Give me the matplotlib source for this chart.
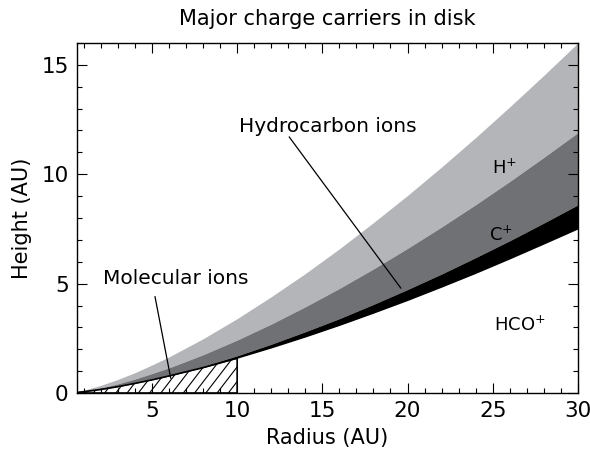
import numpy as np
import matplotlib
matplotlib.use("Agg")
import matplotlib.pyplot as plt
from matplotlib.patches import Polygon
from matplotlib.ticker import MultipleLocator

# radius grid (AU) and layer boundaries (height, AU)
radius = [0.6, 1, 2, 3, 4, 5, 6, 8, 10, 12, 14, 16, 18, 20, 22, 24, 26, 28, 30]
h_top = [0.06, 0.13, 0.35, 0.62, 0.93, 1.28, 1.65, 2.48, 3.40, 4.40, 5.46,
         6.59, 7.79, 9.03, 10.33, 11.68, 13.08, 14.52, 16.0]
h_cplus = [0.04, 0.09, 0.23, 0.42, 0.64, 0.89, 1.15, 1.75, 2.42, 3.15, 3.94,
           4.78, 5.67, 6.61, 7.59, 8.61, 9.67, 10.77, 11.9]
h_hydro = [0.03, 0.06, 0.16, 0.29, 0.44, 0.61, 0.80, 1.22, 1.70, 2.23, 2.80,
           3.40, 4.05, 4.73, 5.44, 6.19, 6.96, 7.77, 8.6]
h_hco = [0.03, 0.06, 0.165, 0.29, 0.44, 0.60, 0.78, 1.16, 1.59, 2.06, 2.56,
         3.09, 3.65, 4.23, 4.84, 5.47, 6.13, 6.81, 7.5]
mol_edge = 10  # molecular ion region extends to 10 AU

light_gray = "#b4b5b8"
dark_gray = "#707174"


def main():
    fig = plt.figure(figsize=(5.9, 4.57), dpi=100)
    ax = fig.add_axes([0.1305, 0.14, 0.849, 0.766])

    r = np.array(radius)
    ax.fill_between(r, h_cplus, h_top, color=light_gray, lw=0)
    ax.fill_between(r, h_hydro, h_cplus, color=dark_gray, lw=0)
    ax.fill_between(r, h_hco, h_hydro, color="black", lw=0)

    ax.set_xlim(0.6, 30)
    ax.set_ylim(0, 16)

    # hatched region: molecular ions below the disk surface, r <= 10 AU
    mask = r <= mol_edge
    verts = [(r[0], 0)] + list(zip(r[mask], np.array(h_hco)[mask])) + [(mol_edge, 0)]
    patch = Polygon(verts, closed=True, facecolor="none", edgecolor="black", lw=1.2)
    ax.add_patch(patch)
    bb = ax.get_window_extent()
    slope = 1.3 * (bb.width / 29.4) / (bb.height / 16.0)
    for x0 in np.arange(r[0] - 3, mol_edge, 0.66):
        ln, = ax.plot([x0, x0 + 4], [0, 4 * slope], color="black", lw=0.8)
        ln.set_clip_path(patch)

    # labels
    ax.text(6.4, 5.25, "Molecular ions", fontsize=14.5, ha="center", va="center")
    ax.plot([5.18, 6.1], [4.4, 0.68], color="black", lw=0.9)
    ax.text(15.3, 12.2, "Hydrocarbon ions", fontsize=14.5, ha="center", va="center")
    ax.plot([13.06, 19.6], [11.7, 4.8], color="black", lw=0.9)
    ax.text(25.7, 10.3, "H$^{+}$", fontsize=13, ha="center", va="center")
    ax.text(25.5, 7.2, "C$^{+}$", fontsize=13, ha="center", va="center")
    ax.text(26.6, 3.1, "HCO$^{+}$", fontsize=13, ha="center", va="center")

    ax.set_title("Major charge carriers in disk", fontsize=15, pad=13)
    ax.set_xlabel("Radius (AU)", fontsize=15, labelpad=5)
    ax.set_ylabel("Height (AU)", fontsize=15, labelpad=7)

    ax.xaxis.set_major_locator(MultipleLocator(5))
    ax.xaxis.set_minor_locator(MultipleLocator(1))
    ax.yaxis.set_major_locator(MultipleLocator(5))
    ax.yaxis.set_minor_locator(MultipleLocator(1))
    ax.tick_params(which="both", direction="in", top=True, right=True, labelsize=15.5)
    ax.tick_params(which="major", length=7, width=0.8, pad=6)
    ax.tick_params(which="minor", length=3.5, width=0.8)
    for s in ax.spines.values():
        s.set_linewidth(1.0)

    fig.savefig("out.png", dpi=100)


if __name__ == "__main__":
    main()
